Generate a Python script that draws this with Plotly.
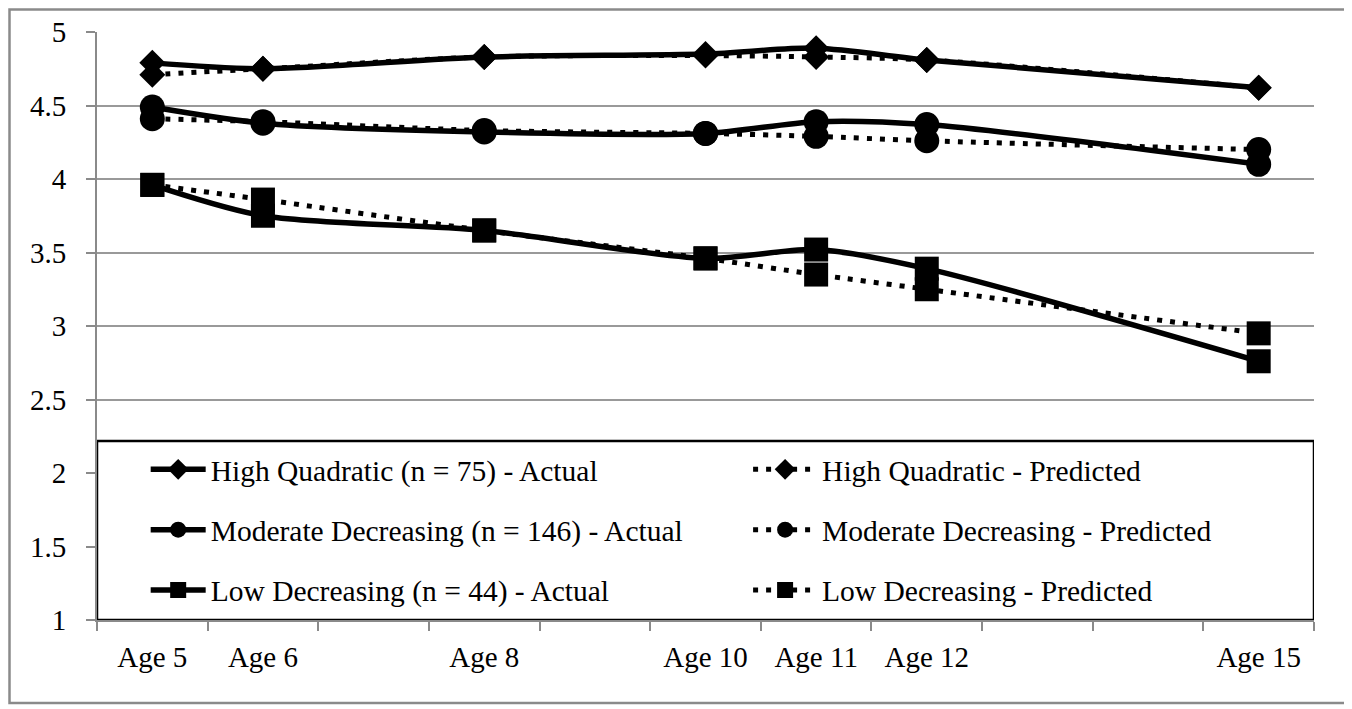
import plotly.graph_objects as go

ages = [5, 6, 8, 10, 11, 12, 15]
age_labels = ["Age 5", "Age 6", "Age 8", "Age 10", "Age 11", "Age 12", "Age 15"]

hq_actual = [4.79, 4.75, 4.83, 4.85, 4.89, 4.81, 4.62]
hq_pred = [4.71, 4.75, 4.83, 4.84, 4.83, 4.81, 4.62]
md_actual = [4.49, 4.38, 4.32, 4.31, 4.39, 4.37, 4.10]
md_pred = [4.41, 4.39, 4.33, 4.31, 4.29, 4.26, 4.20]
ld_actual = [3.96, 3.75, 3.65, 3.46, 3.52, 3.39, 2.76]
ld_pred = [3.96, 3.86, 3.65, 3.46, 3.35, 3.25, 2.95]

actual_names = ["High Quadratic (n = 75) - Actual",
                "Moderate Decreasing (n = 146) - Actual",
                "Low Decreasing (n = 44) - Actual"]
pred_names = ["High Quadratic - Predicted",
              "Moderate Decreasing - Predicted",
              "Low Decreasing - Predicted"]
symbols = ["diamond", "circle", "square"]
sizes = [20, 25, 24]

FONT = "Liberation Serif, Times New Roman, serif"

fig = go.Figure()
actuals = [hq_actual, md_actual, ld_actual]
preds = [hq_pred, md_pred, ld_pred]

for i in range(3):
    fig.add_trace(go.Scatter(
        x=ages, y=preds[i], name=pred_names[i], mode="lines+markers",
        line=dict(color="black", width=5, dash="5px,8px", shape="spline", smoothing=0.8),
        marker=dict(symbol=symbols[i], size=sizes[i], color="black"),
        legend="legend2", legendgroup="p%d" % i,
    ))
for i in range(3):
    fig.add_trace(go.Scatter(
        x=ages, y=actuals[i], name=actual_names[i], mode="lines+markers",
        line=dict(color="black", width=5.5, shape="spline", smoothing=0.8),
        marker=dict(symbol=symbols[i], size=sizes[i], color="black"),
        legend="legend", legendgroup="a%d" % i,
    ))

# plot area in figure pixels: x 89..1306, y 24..612
PL, PR, PT, PB = 89, 1306, 24, 612
PW, PH = PR - PL, PB - PT

# legend box
fig.add_shape(type="rect", xref="x", yref="y", x0=4.5, x1=15.5, y0=1.0, y1=2.218,
              fillcolor="white", line=dict(color="black", width=2.5), layer="above")
# outer chart border
fig.add_shape(type="rect", xref="paper", yref="paper",
              x0=(1.5 - PL) / PW, x1=(1340 - PL) / PW,
              y0=(PB - 695) / PH, y1=(PB - 1.5) / PH,
              line=dict(color="#8a8a8a", width=2.5), fillcolor="rgba(0,0,0,0)", layer="below")

legend_common = dict(
    orientation="v", yanchor="top", xanchor="left",
    bgcolor="rgba(0,0,0,0)", borderwidth=0,
    font=dict(family=FONT, size=29.5, color="black"),
    tracegroupgap=19, traceorder="grouped",
)

fig.update_layout(
    width=1352, height=709,
    margin=dict(l=PL, r=1352 - PR, t=PT, b=709 - PB),
    paper_bgcolor="white", plot_bgcolor="white",
    font=dict(family=FONT, size=29, color="black"),
    showlegend=True,
    legend=dict(x=0.040, y=0.30, itemwidth=55, **legend_common),
    legend2=dict(x=0.535, y=0.30, itemwidth=64, **legend_common),
    xaxis=dict(
        range=[4.5, 15.5], tickmode="array", tickvals=ages, ticktext=age_labels,
        ticks="", showgrid=False, zeroline=False, automargin=False,
        showline=True, linecolor="#8a8a8a", linewidth=2,
        ticklabelstandoff=10,
        tickfont=dict(family=FONT, size=29, color="black"),
        minor=dict(tickmode="array", tickvals=[4.5 + k for k in range(12)],
                   ticks="outside", ticklen=9, tickwidth=2, tickcolor="#8a8a8a", showgrid=False),
    ),
    yaxis=dict(
        range=[1, 5], tickmode="linear", tick0=1, dtick=0.5,
        ticks="outside", ticklen=9, tickwidth=2, tickcolor="#8a8a8a",
        showgrid=True, gridcolor="#999999", gridwidth=2, zeroline=False, automargin=False,
        showline=True, linecolor="#8a8a8a", linewidth=2,
        ticklabelstandoff=14,
        tickfont=dict(family=FONT, size=29, color="black"),
    ),
)

fig.write_html("out.html")
